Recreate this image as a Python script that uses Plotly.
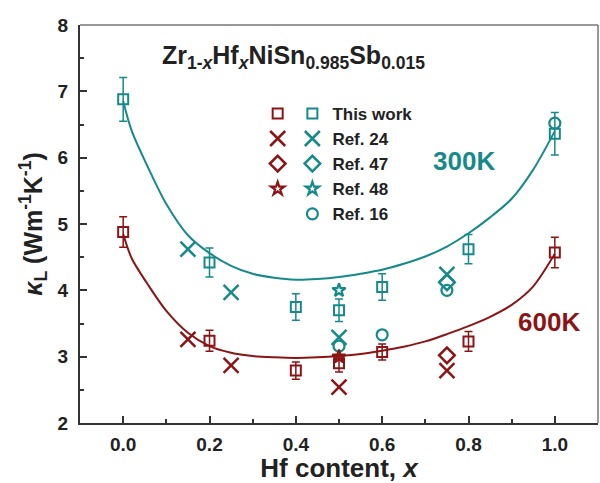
import plotly.graph_objects as go

TEAL = "#168a8a"
RED = "#8c1414"
FONT = "Liberation Sans, Arial, sans-serif"

# This work (300 K and 600 K)
x_tw = [0.0, 0.2, 0.4, 0.5, 0.6, 0.8, 1.0]
y_tw_300 = [6.88, 4.42, 3.75, 3.70, 4.05, 4.62, 6.36]
e_tw_300 = [0.33, 0.22, 0.20, 0.17, 0.20, 0.22, 0.32]
y_tw_600 = [4.88, 3.24, 2.79, 2.90, 3.07, 3.23, 4.57]
e_tw_600 = [0.23, 0.16, 0.13, 0.13, 0.12, 0.15, 0.23]

# Ref. 24
x_r24 = [0.15, 0.25, 0.5, 0.75]
y_r24_300 = [4.62, 3.97, 3.29, 4.24]
y_r24_600 = [3.26, 2.87, 2.54, 2.79]

# Ref. 47
x_r47 = [0.75]
y_r47_300 = [4.12]
y_r47_600 = [3.02]

# Ref. 48
x_r48 = [0.5]
y_r48_300 = [4.00]
y_r48_600 = [3.00]

# Ref. 16 (300 K only)
x_r16 = [0.5, 0.6, 0.75, 1.0]
y_r16_300 = [3.16, 3.33, 4.00, 6.52]

# Model curves
x_fit = [0.0, 0.02, 0.06, 0.1, 0.15, 0.2, 0.25, 0.3, 0.35, 0.4, 0.45, 0.5,
         0.55, 0.6, 0.65, 0.7, 0.75, 0.8, 0.85, 0.9, 0.95, 1.0]
y_fit_300 = [6.85, 6.40, 5.82, 5.30, 4.83, 4.56, 4.37, 4.25, 4.19, 4.16, 4.17, 4.20,
             4.25, 4.31, 4.40, 4.51, 4.66, 4.86, 5.10, 5.38, 5.82, 6.40]
y_fit_600 = [4.85, 4.48, 4.06, 3.69, 3.36, 3.16, 3.06, 3.01, 2.99, 2.98, 2.99, 3.01,
             3.04, 3.09, 3.15, 3.23, 3.34, 3.46, 3.60, 3.78, 4.06, 4.55]

fig = go.Figure()

fig.add_trace(go.Scatter(x=x_fit, y=y_fit_300, mode="lines", line=dict(color=TEAL, width=2, shape="spline", smoothing=0.8),
                         showlegend=False, hoverinfo="skip"))
fig.add_trace(go.Scatter(x=x_fit, y=y_fit_600, mode="lines", line=dict(color=RED, width=2, shape="spline", smoothing=0.8),
                         showlegend=False, hoverinfo="skip"))

def add_pts(x, y, color, symbol, size, lw, name, legend, err=None):
    kw = {}
    if err is not None:
        kw["error_y"] = dict(type="data", array=err, visible=True, color=color, thickness=1.5, width=4)
    fig.add_trace(go.Scatter(x=x, y=y, mode="markers", name=name, legend=legend,
                             marker=dict(symbol=symbol, size=size, color=color,
                                         line=dict(color=color, width=lw)), **kw))

# teal (legend with text)
add_pts(x_tw, y_tw_300, TEAL, "square-open", 10, 2, "This work", "legend", e_tw_300)
add_pts(x_r24, y_r24_300, TEAL, "x-thin-open", 15, 2.5, "Ref. 24", "legend")
add_pts(x_r47, y_r47_300, TEAL, "diamond-open", 12, 2.5, "Ref. 47", "legend")
add_pts(x_r48, y_r48_300, TEAL, "star-open", 10, 2.2, "Ref. 48", "legend")
add_pts(x_r16, y_r16_300, TEAL, "circle-open", 11, 2.2, "Ref. 16", "legend")
# red (legend2 without text)
add_pts(x_tw, y_tw_600, RED, "square-open", 10, 2, "", "legend2", e_tw_600)
add_pts(x_r24, y_r24_600, RED, "x-thin-open", 15, 2.5, "", "legend2")
add_pts(x_r47, y_r47_600, RED, "diamond-open", 12, 2.5, "", "legend2")
add_pts(x_r48, y_r48_600, RED, "star-open", 10, 2.2, "", "legend2")

axis_common = dict(showline=True, linewidth=2, linecolor="#333", ticks="inside", ticklen=7, tickwidth=2,
                   tickcolor="#333", showgrid=False, zeroline=False,
                   tickfont=dict(family=FONT, size=19, color="#222", weight="bold"))

fig.update_layout(
    width=600, height=483,
    margin=dict(l=80, r=2, t=25, b=60),
    plot_bgcolor="white", paper_bgcolor="white",
    xaxis=dict(range=[-0.1, 1.1], tick0=0, dtick=0.2, tickformat=".1f",
               minor=dict(ticks="inside", ticklen=4, tickwidth=2, dtick=0.1, tickcolor="#333"),
               ticklabelstandoff=3,
               title=dict(text="Hf content, <i>x</i>", standoff=6,
                          font=dict(family=FONT, size=26, color="#222", weight="bold")),
               **axis_common),
    yaxis=dict(range=[2, 8], tick0=2, dtick=1,
               minor=dict(ticks="inside", ticklen=4, tickwidth=2, dtick=0.5, tickcolor="#333"),
               ticklabelstandoff=6,
               title=dict(text="<i>κ</i><sub>L</sub> (Wm<sup>-1</sup>K<sup>-1</sup>)", standoff=8,
                          font=dict(family=FONT, size=25, color="#222", weight="bold")),
               **axis_common),
    legend=dict(x=0.41, y=0.822, xanchor="left", yanchor="top", bgcolor="rgba(0,0,0,0)",
                font=dict(family=FONT, size=17, color="#222", weight="bold"), tracegroupgap=0),
    legend2=dict(x=0.343, y=0.822, xanchor="left", yanchor="top", bgcolor="rgba(0,0,0,0)",
                 font=dict(family=FONT, size=17, color="#222", weight="bold"), tracegroupgap=0),
    shapes=[
        dict(type="line", xref="paper", yref="paper", x0=0, x1=1, y0=1, y1=1, line=dict(color="#333", width=1)),
        dict(type="line", xref="paper", yref="paper", x0=1, x1=1, y0=0, y1=1, line=dict(color="#333", width=1)),
    ],
    annotations=[
        dict(x=0.394, y=7.52, xref="x", yref="y", showarrow=False,
             text="Zr<sub>1-<i>x</i></sub>Hf<sub><i>x</i></sub>NiSn<sub>0.985</sub>Sb<sub>0.015</sub>",
             font=dict(family=FONT, size=25, color="#222", weight="bold")),
        dict(x=0.79, y=5.95, xref="x", yref="y", showarrow=False, text="300K",
             font=dict(family=FONT, size=26, color=TEAL, weight="bold")),
        dict(x=0.986, y=3.53, xref="x", yref="y", showarrow=False, text="600K",
             font=dict(family=FONT, size=26, color=RED, weight="bold")),
    ],
)

fig.write_html("out.html")
